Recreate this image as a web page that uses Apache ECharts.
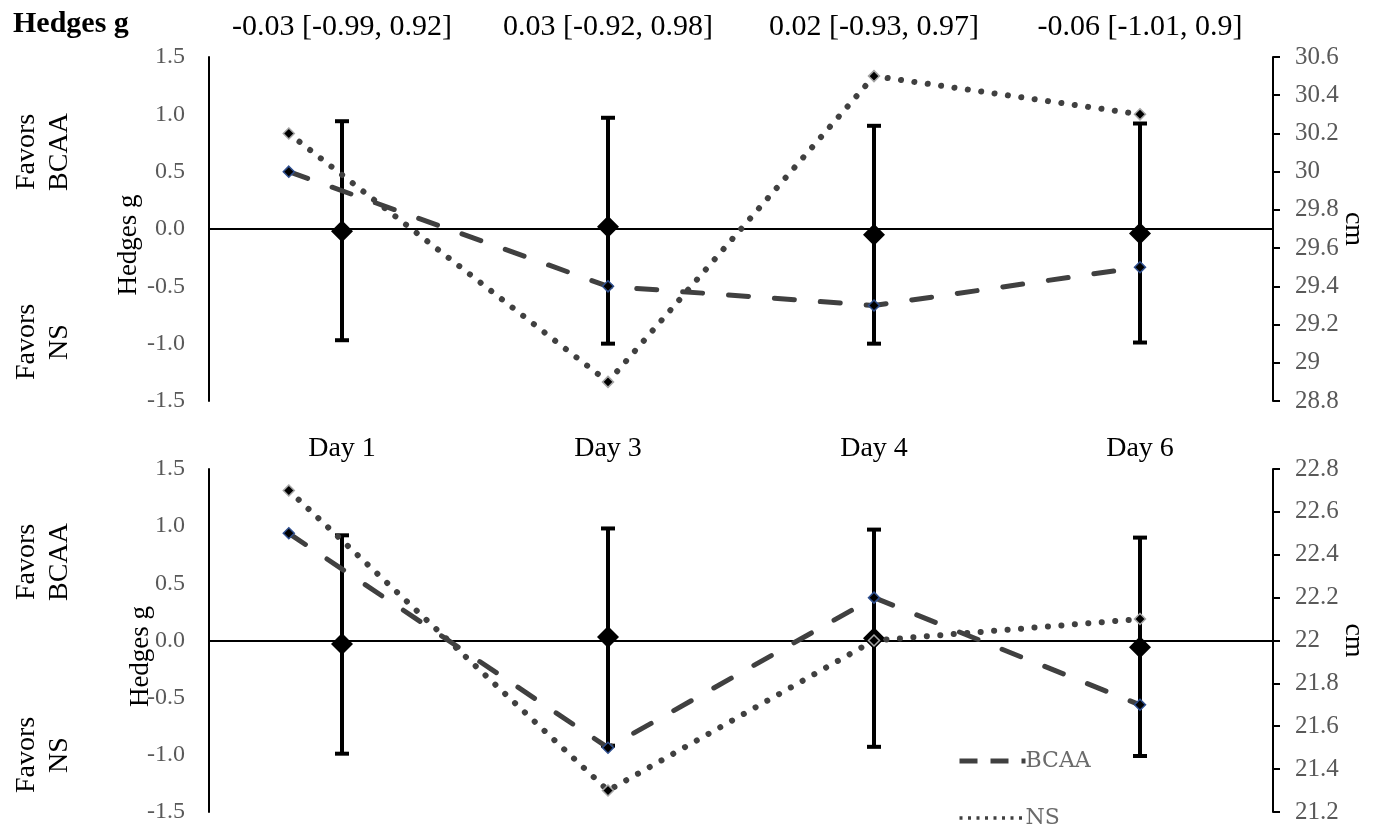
<!DOCTYPE html>
<html>
<head>
<meta charset="utf-8">
<script src="https://cdn.jsdelivr.net/npm/echarts@6/dist/echarts.min.js"></script>
<style>
html,body{margin:0;padding:0;background:#fff;}
#chart{width:1375px;height:828px;}
</style>
</head>
<body>
<div id="chart"></div>
<script>
// ---------- data ----------
const categories = ['Day 1', 'Day 3', 'Day 4', 'Day 6'];
const lineDayPos = [0.8, 2, 3, 4];           // x value of the BCAA / NS points

// top panel
const topG    = [-0.02, 0.02, -0.05, -0.04];
const topLow  = [-0.97, -1.00, -1.00, -0.99];
const topHigh = [0.94, 0.97, 0.90, 0.92];
const topBCAA = [30.0, 29.4, 29.3, 29.5];
const topNS   = [30.2, 28.9, 30.5, 30.3];

// bottom panel
const botG    = [-0.03, 0.03, 0.02, -0.06];
const botLow  = [-0.99, -0.92, -0.93, -1.01];
const botHigh = [0.92, 0.98, 0.97, 0.9];
const botBCAA = [22.5, 21.5, 22.2, 21.7];
const botNS   = [22.7, 21.3, 22.0, 22.1];

const headerLabels = botG.map((g, i) => g + ' [' + botLow[i] + ', ' + botHigh[i] + ']');

// ---------- styling ----------
const FONT = 'Liberation Serif';
const GREY = '#595959';
const LINE = '#404040';
const BCAA_LINE = { color: LINE, width: 5, type: [20, 26], cap: 'round' };
const NS_LINE = { color: LINE, width: 6, type: [0.1, 13.4], cap: 'round' };
const BCAA_LEG = { color: LINE, width: 5, type: [18, 13], cap: 'butt' };
const NS_LEG = { color: LINE, width: 3.5, type: [3, 5.5], cap: 'butt' };

function errBar(params, api) {
  const x = api.value(0), lo = api.value(1), hi = api.value(2);
  const a = api.coord([x, lo]), b = api.coord([x, hi]);
  const h = 7;
  const st = { stroke: '#000', lineWidth: 4 };
  return {
    type: 'group',
    children: [
      { type: 'line', shape: { x1: a[0], y1: a[1], x2: b[0], y2: b[1] }, style: st },
      { type: 'line', shape: { x1: a[0] - h, y1: a[1], x2: a[0] + h, y2: a[1] }, style: st },
      { type: 'line', shape: { x1: b[0] - h, y1: b[1], x2: b[0] + h, y2: b[1] }, style: st }
    ]
  };
}

function leftY(grid, nameGap) {
  return {
    gridIndex: grid, type: 'value', min: -1.5, max: 1.5, interval: 0.5,
    position: 'left',
    name: 'Hedges g', nameLocation: 'middle', nameRotate: 90, nameGap: nameGap,
    nameMoveOverlap: false,
    nameTextStyle: { fontFamily: FONT, fontSize: 27, color: '#000', padding: [0, 32, 0, 0] },
    axisLine: { show: true, onZero: false, lineStyle: { color: '#000', width: 2 } },
    axisTick: { show: false },
    splitLine: { show: false },
    axisLabel: { fontFamily: FONT, fontSize: 24, color: GREY, margin: 24,
      formatter: v => v.toFixed(1) }
  };
}
function rightY(grid, min, max) {
  return {
    gridIndex: grid, type: 'value', min: min, max: max, interval: 0.2,
    position: 'right',
    name: 'cm', nameLocation: 'middle', nameRotate: -90, nameGap: 66,
    nameMoveOverlap: false,
    nameTextStyle: { fontFamily: FONT, fontSize: 28, color: '#000' },
    axisLine: { show: true, onZero: false, lineStyle: { color: '#000', width: 2 } },
    axisTick: { show: true, inside: false, length: 7, lineStyle: { color: '#000', width: 2 } },
    splitLine: { show: false },
    axisLabel: { fontFamily: FONT, fontSize: 25, color: GREY, margin: 22,
      formatter: v => String(parseFloat(v.toFixed(1))) }
  };
}

function panelSeries(xCat, xVal, yL, yR, g, lo, hi, bcaa, ns) {
  return [
    {
      type: 'custom', xAxisIndex: xCat, yAxisIndex: yL, z: 2,
      renderItem: errBar,
      data: categories.map((c, i) => [i, lo[i], hi[i]]),
      silent: true
    },
    {
      type: 'scatter', xAxisIndex: xCat, yAxisIndex: yL, z: 3,
      symbol: 'diamond', symbolSize: [22, 22],
      itemStyle: { color: '#000', opacity: 1 },
      data: categories.map((c, i) => [i, g[i]]),
      silent: true,
      markLine: {
        silent: true, symbol: 'none', label: { show: false },
        lineStyle: { color: '#000', width: 2, type: 'solid' },
        data: [{ yAxis: 0 }]
      }
    },
    {
      name: 'BCAA', type: 'line', xAxisIndex: xVal, yAxisIndex: yR, z: 5,
      symbol: 'diamond', symbolSize: 11, showSymbol: true,
      itemStyle: { color: '#000', borderColor: '#2f4f8f', borderWidth: 1.5 },
      lineStyle: BCAA_LINE,
      data: lineDayPos.map((x, i) => [x, bcaa[i]]),
      silent: true
    },
    {
      name: 'NS', type: 'line', xAxisIndex: xVal, yAxisIndex: yR, z: 5,
      symbol: 'diamond', symbolSize: 11, showSymbol: true,
      itemStyle: { color: '#000', borderColor: '#a6a6a6', borderWidth: 1.5 },
      lineStyle: NS_LINE,
      data: lineDayPos.map((x, i) => [x, ns[i]]),
      silent: true
    }
  ];
}

function favors(x, y, txt) {
  return {
    type: 'text', x: x, y: y, rotation: Math.PI / 2,
    style: { text: txt, fontFamily: FONT, fontSize: 28, fill: '#000',
      align: 'center', verticalAlign: 'middle', lineHeight: 33 }
  };
}

const option = {
  backgroundColor: '#fff',
  animation: false,
  grid: [
    { left: 209, right: 102, top: 57, height: 344, outerBoundsMode: 'none', containLabel: false },
    { left: 209, right: 102, top: 469, height: 343, outerBoundsMode: 'none', containLabel: false }
  ],
  xAxis: [
    { gridIndex: 0, type: 'category', data: categories, position: 'bottom', boundaryGap: true,
      axisLine: { show: false }, axisTick: { show: false },
      axisLabel: { interval: 0, fontFamily: FONT, fontSize: 28, color: '#000', margin: 34 } },
    { gridIndex: 0, type: 'category', data: headerLabels, position: 'top', boundaryGap: true,
      axisLine: { show: false }, axisTick: { show: false },
      axisLabel: { interval: 0, hideOverlap: false, fontFamily: FONT, fontSize: 30, color: '#000', margin: 15 } },
    { gridIndex: 0, type: 'value', min: 0.5, max: 4.5, show: false },
    { gridIndex: 1, type: 'category', data: categories, position: 'bottom', boundaryGap: true,
      axisLine: { show: false }, axisTick: { show: false }, axisLabel: { show: false } },
    { gridIndex: 1, type: 'value', min: 0.5, max: 4.5, show: false }
  ],
  yAxis: [
    leftY(0, 67),
    rightY(0, 28.8, 30.6),
    leftY(1, 55),
    rightY(1, 21.2, 22.8)
  ],
  legend: {
    orient: 'vertical', left: 952, top: 745, height: 200, itemGap: 35,
    itemWidth: 66, itemHeight: 14,
    data: [
      { name: 'BCAA', lineStyle: BCAA_LEG },
      { name: 'NS', lineStyle: NS_LEG }
    ],
    itemStyle: { opacity: 0 },
    textStyle: { fontFamily: 'DejaVu Serif', fontSize: 22, color: '#6b6b6b', padding: [0, 0, 0, -5] },
    selectedMode: false
  },
  graphic: [
    { type: 'text', x: 13, y: 24,
      style: { text: 'Hedges g', fontFamily: FONT, fontSize: 30, fontWeight: 'bold', fill: '#000',
        align: 'left', verticalAlign: 'middle' } },
    favors(43, 152, 'Favors\nBCAA'),
    favors(43, 342, 'Favors\nNS'),
    favors(43, 562, 'Favors\nBCAA'),
    favors(43, 755, 'Favors\nNS')
  ],
  series: [].concat(
    panelSeries(0, 2, 0, 1, topG, topLow, topHigh, topBCAA, topNS),
    panelSeries(3, 4, 2, 3, botG, botLow, botHigh, botBCAA, botNS)
  )
};

const chart = echarts.init(document.getElementById('chart'), null, { renderer: 'canvas' });
chart.setOption(option);
</script>
</body>
</html>
